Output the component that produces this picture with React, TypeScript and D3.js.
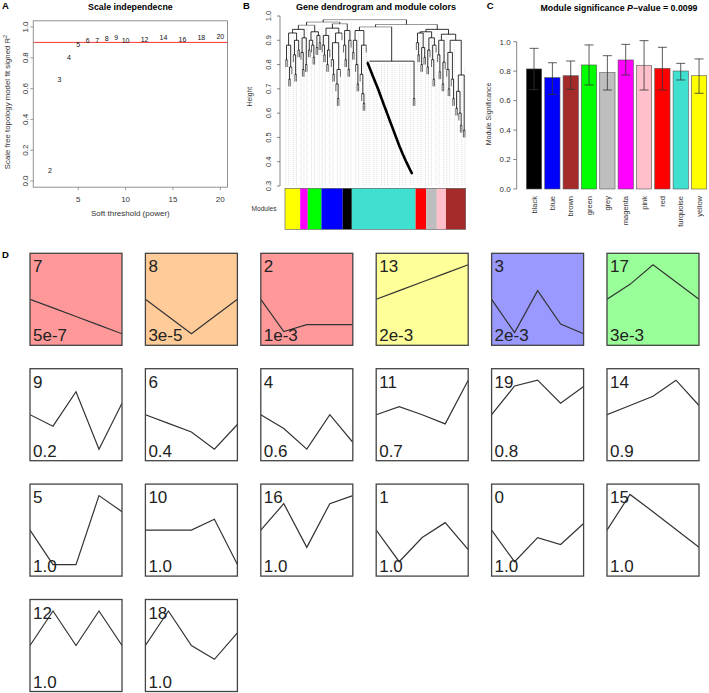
import React from 'react';
import * as d3 from 'd3';

// ---------- A: scale independence ----------
const powers = [2, 3, 4, 5, 6, 7, 8, 9, 10, 12, 14, 16, 18, 20];
const fitR2 = [0.071, 0.656, 0.8, 0.888, 0.913, 0.911, 0.922, 0.93, 0.913, 0.92, 0.93, 0.92, 0.93, 0.935];
const r2Cut = 0.9;
const aXTicks = [5, 10, 15, 20];
const aYTicks = [0, 0.2, 0.4, 0.6, 0.8, 1.0];

// ---------- B: dendrogram ----------
// module code -> colour
const moduleColors: Record<string, string> = {
  Y: '#FFFF00', M: '#FF00FF', G: '#00FF00', B: '#0000FF', K: '#000000',
  T: '#40E0D0', R: '#FF0000', E: '#BEBEBE', P: '#FFC0CB', N: '#A52A2A',
};
// (height child child ...) ; letters are leaves (module code); @ = turquoise chain
const yellowTree = '(0.93 (0.88 (0.82 Y Y) (0.79 (0.74 Y Y) Y)) (0.90 (0.84 Y (0.76 Y Y)) (0.86 Y Y)))';
const magentaTree = '(0.91 (0.85 M (0.78 M M)) (0.80 M M))';
const greenTree = '(0.935 (0.90 (0.86 G G) (0.88 G (0.83 G G))) (0.92 (0.87 G G) (0.89 G G)))';
const blueTree = '(0.95 (0.92 (0.88 B (0.84 B B)) (0.86 (0.80 B B) B)) (0.93 (0.89 (0.82 B (0.76 B B)) (0.78 (0.72 B (0.66 B B)) B)) B))';
const blackTree = '(0.94 (0.88 K (0.82 K K)) (0.90 (0.78 K K) K))';
const turqLeftTree = '(0.94 (0.90 (0.85 T T) (0.80 T (0.72 T T))) (0.88 (0.76 T (0.68 T (0.64 T T))) T))';
const redTree = '(0.93 (0.89 R (0.84 R R)) (0.87 (0.80 R R) (0.83 R R)))';
const greyTree = '(0.91 (0.86 (0.79 E E) E) (0.88 (0.82 E (0.74 E E)) E))';
const pinkTree = '(0.90 (0.84 P (0.77 P P)) (0.81 (0.72 P P) P))';
const brownTree = '(0.90 (0.85 (0.78 N (0.70 N N)) (0.74 N (0.66 N N))) (0.757 (0.69 (0.62 N N) (0.60 N (0.55 N N))) (0.53 N N)))';
const turqChainHeights = [
  0.805, 0.79, 0.774, 0.758, 0.743, 0.727, 0.712, 0.696, 0.679, 0.662,
  0.645, 0.628, 0.612, 0.595, 0.578, 0.561, 0.545, 0.528, 0.511, 0.495,
  0.478, 0.462, 0.447, 0.432, 0.418, 0.404, 0.391, 0.378, 0.365,
];
const dendroTree =
  `(0.985 (0.975 (0.962 (0.945 ${yellowTree} ${magentaTree}) ${greenTree}) (0.968 ${blueTree} ${blackTree}))` +
  ` (0.965 (0.955 ${turqLeftTree} (0.814 @ (0.66 T T))) (0.945 (0.935 ${redTree} ${greyTree}) (0.925 ${pinkTree} ${brownTree}))))`;
const bYTicks = [0.3, 0.4, 0.5, 0.6, 0.7, 0.8, 0.9, 1.0];

// ---------- C: module significance ----------
const msModules = ['black', 'blue', 'brown', 'green', 'grey', 'magenta', 'pink', 'red', 'turquoise', 'yellow'];
const msFill = ['#000000', '#0000FF', '#A52A2A', '#00FF00', '#BEBEBE', '#FF00FF', '#FFC0CB', '#FF0000', '#40E0D0', '#FFFF00'];
const msMean = [0.815, 0.756, 0.769, 0.842, 0.79, 0.876, 0.84, 0.819, 0.801, 0.769];
const msUpper = [0.955, 0.857, 0.869, 0.978, 0.905, 0.982, 1.007, 0.962, 0.853, 0.883];
const msLower = [0.675, 0.643, 0.677, 0.706, 0.672, 0.774, 0.672, 0.672, 0.74, 0.65];
const cYTicks = [0, 0.2, 0.4, 0.6, 0.8, 1.0];

// ---------- D: STEM profiles ----------
const profileIds = [7, 8, 2, 13, 3, 17, 9, 6, 4, 11, 19, 14, 5, 10, 16, 1, 0, 15, 12, 18];
const profilePs = ['5e-7', '3e-5', '1e-3', '2e-3', '2e-3', '3e-3', '0.2', '0.4', '0.6', '0.7', '0.8', '0.9',
  '1.0', '1.0', '1.0', '1.0', '1.0', '1.0', '1.0', '1.0'];
const profileFills = ['#FF9999', '#FFCC99', '#FF9999', '#FFFF99', '#9999FF', '#99FF99'];
const profileValues = [
  [0, -0.75, -1.5, -2.25, -3],
  [0, -1.5, -3, -1.5, 0],
  [0, -2.8, -2.2, -2.2, -2.2],
  [0, 0.75, 1.5, 2.25, 3],
  [0, -2.9, 0.75, -2.15, -3],
  [0, 1.3, 3, 1.5, 0],
  [0, -1, 2, -3, 1],
  [0, -0.75, -1.5, -3, -0.85],
  [0, -1.2, -3, 0, -2.4],
  [0, 0.7, 0, -0.8, 3],
  [0, 2.5, 3, 1, 2.45],
  [0, 0.8, 1.6, 3, 0.8],
  [0, -3, -3, 3, 1.6],
  [0, 0, 0, 0.95, -3],
  [0, 2.3, -1.5, 2.3, 3],
  [0, -2.75, -0.65, 0.65, -1.7],
  [0, -2.75, -0.65, -1.25, 0.57],
  [0, 3.1, 1.6, 0.05, -1.5],
  [0, 3, 0, 3, 0],
  [0, 3, 0, -1.2, 1.1],
];

type DNode = { h?: number; code?: string; children?: DNode[]; x?: number; chain?: boolean };

function buildChain(hs: number[], code: string): DNode {
  let node: DNode = { h: hs[hs.length - 1], chain: true, children: [{ code, chain: true }, { code, chain: true }] };
  for (let k = hs.length - 2; k >= 0; k--) node = { h: hs[k], chain: true, children: [{ code, chain: true }, node] };
  return node;
}

function parseTree(src: string, chain: DNode): DNode {
  const tokens = src.replace(/\(/g, ' ( ').replace(/\)/g, ' ) ').trim().split(/\s+/);
  let i = 0;
  const read = (): DNode => {
    const t = tokens[i++];
    if (t === '(') {
      const node: DNode = { h: +tokens[i++], children: [] };
      while (tokens[i] !== ')') node.children!.push(read());
      i++;
      return node;
    }
    if (t === '@') return chain;
    return { code: t };
  };
  return read();
}

const font = 'Liberation Sans, Arial, Helvetica, sans-serif';

function PanelA() {
  const ax = d3.scaleLinear().domain([1, 20]).range([40.43, 220.3]);
  const ay = d3.scaleLinear().domain([0, 1]).range([181, 27]);
  const x0 = ax(1 - 0.76), x1 = ax(20.76), y0 = ay(1.04), y1 = ay(-0.04);
  return (
    <g fontFamily={font}>
      <text x={2} y={8.5} fontSize={9.5} fontWeight="bold">A</text>
      <text x={(x0 + x1) / 2} y={9.5} fontSize={8.8} fontWeight="bold" textAnchor="middle">Scale independecne</text>
      <defs>
        <clipPath id="clipA"><rect x={x0} y={y0} width={x1 - x0} height={y1 - y0} /></clipPath>
      </defs>
      <line x1={x0} x2={x1} y1={ay(r2Cut)} y2={ay(r2Cut)} stroke="#FF0000" strokeWidth={0.8} />
      <g clipPath="url(#clipA)">
        {powers.map((p, i) => (
          <text key={p} x={ax(p)} y={ay(fitR2[i])} dy="0.35em" fontSize={7} textAnchor="middle" fill="#111">{p}</text>
        ))}
      </g>
      <rect x={x0} y={y0} width={x1 - x0} height={y1 - y0} fill="none" stroke="#777" strokeWidth={0.8} />
      {aXTicks.map(t => (
        <g key={t}>
          <line x1={ax(t)} x2={ax(t)} y1={y1} y2={y1 + 3} stroke="#777" strokeWidth={0.7} />
          <text x={ax(t)} y={y1 + 15} fontSize={8} textAnchor="middle" fill="#333">{t}</text>
        </g>
      ))}
      {aYTicks.map(t => (
        <g key={t}>
          <line x1={x0} x2={x0 - 3} y1={ay(t)} y2={ay(t)} stroke="#777" strokeWidth={0.7} />
          <text transform={`translate(${x0 - 5},${ay(t)}) rotate(-90)`} fontSize={8} textAnchor="middle" fill="#333">{d3.format('.1f')(t)}</text>
        </g>
      ))}
      <text x={(x0 + x1) / 2} y={216} fontSize={8} textAnchor="middle" fill="#333">Soft threshold (power)</text>
      <text transform={`translate(9.5,${(y0 + y1) / 2 - 2}) rotate(-90)`} fontSize={7.8} textAnchor="middle" fill="#333">
        Scale free topology model fit signed R<tspan dy={-3} fontSize={5.5}>2</tspan>
      </text>
    </g>
  );
}

function PanelB() {
  const by = d3.scaleLinear().domain([0.3, 1]).range([186, 16]);
  const root = parseTree(dendroTree, buildChain(turqChainHeights, 'T'));
  const leaves: DNode[] = [];
  const collect = (n: DNode) => { if (n.children) n.children.forEach(collect); else leaves.push(n); };
  collect(root);
  const bx = d3.scaleBand<number>().domain(d3.range(leaves.length)).range([285, 465.7]);
  leaves.forEach((l, i) => { l.x = bx(i)! + bx.bandwidth() / 2; });
  const place = (n: DNode): number => {
    if (!n.children) return n.x!;
    const xs = n.children.map(place);
    n.x = (xs[0] + xs[xs.length - 1]) / 2;
    return n.x;
  };
  place(root);
  const hang = 0.03;
  const hSegs: { x1: number; x2: number; h: number }[] = [];
  const vSegs: { x: number; h1: number; h2: number; leaf: boolean }[] = [];
  const chainPts: [number, number][] = [];
  const walk = (n: DNode) => {
    if (!n.children) return;
    const c = n.children;
    if (n.chain) {
      // the long chain of single genes is drawn as one thick stroke through its merges
      chainPts.push([c[0].x!, n.h!]);
      if (c[1].children) walk(c[1]);
      else chainPts.push([c[1].x!, n.h! - 0.012]);
      return;
    }
    hSegs.push({ x1: c[0].x!, x2: c[c.length - 1].x!, h: n.h! });
    c.forEach(k => {
      const top = k.chain && k.children ? k.children[0].x! : k.x!;
      vSegs.push({ x: top, h1: n.h!, h2: k.children ? k.h! : n.h! - hang, leaf: !k.children });
      walk(k);
    });
  };
  walk(root);
  const chainLine = d3.line<[number, number]>().x(d => d[0]).y(d => by(d[1]));

  // guide lines
  const guideIdx = d3.range(50).map(k => Math.round(k * (leaves.length - 1) / 49));
  const guides = guideIdx.map(i => {
    const x = leaves[i].x!;
    const covering = hSegs.filter(s => s.x1 <= x && s.x2 >= x && s.x2 - s.x1 > 2.5);
    const top = d3.min(covering, s => s.h) ?? 0.8;
    return { x, top: top - 0.012 };
  });

  // colour strip runs
  const runs: { code: string; a: number; b: number }[] = [];
  leaves.forEach((l, i) => {
    const last = runs[runs.length - 1];
    if (last && last.code === l.code) last.b = i;
    else runs.push({ code: l.code!, a: i, b: i });
  });
  const stripTop = 188.3, stripBot = 229.3;

  return (
    <g fontFamily={font}>
      <text x={243} y={8.5} fontSize={9.5} fontWeight="bold">B</text>
      <text x={376} y={9.5} fontSize={9} fontWeight="bold" textAnchor="middle">Gene dendrogram and module colors</text>
      {guides.map((g, i) => (
        <line key={i} x1={g.x} x2={g.x} y1={by(g.top)} y2={by(0.3)} stroke="#B8B8B8" strokeWidth={0.5} strokeDasharray="1,1" />
      ))}
      <g stroke="#000" strokeLinecap="butt">
        {hSegs.map((s, i) => (
          <line key={'h' + i} x1={s.x1} x2={s.x2} y1={by(s.h)} y2={by(s.h)}
            strokeWidth={s.h > 0.95 ? 0.6 : 0.8} stroke={s.h > 0.95 ? '#555' : '#000'} />
        ))}
        {vSegs.map((s, i) => (
          <line key={'v' + i} x1={s.x} x2={s.x} y1={by(s.h1)} y2={by(s.h2)} strokeWidth={s.leaf ? 0.6 : 0.8} />
        ))}
      </g>
      <path d={chainLine(chainPts)!} fill="none" stroke="#000" strokeWidth={2.6} strokeLinejoin="round" strokeLinecap="round" />
      <line x1={280} x2={280} y1={by(0.3)} y2={by(1)} stroke="#555" strokeWidth={0.7} />
      {bYTicks.map(t => (
        <g key={t}>
          <line x1={280} x2={277} y1={by(t)} y2={by(t)} stroke="#555" strokeWidth={0.7} />
          <text transform={`translate(${268},${by(t)}) rotate(-90)`} dy="0.35em" fontSize={7.5} textAnchor="middle" fill="#333">{d3.format('.1f')(t)}</text>
        </g>
      ))}
      <text transform={`translate(249.5,96.7) rotate(-90)`} dy="0.35em" fontSize={6.8} textAnchor="middle" fill="#333">Height</text>
      {runs.map((r, i) => (
        <rect key={i} x={bx(r.a)!} y={stripTop} width={bx(r.b)! + bx.bandwidth() - bx(r.a)!} height={stripBot - stripTop} fill={moduleColors[r.code]} />
      ))}
      <rect x={285} y={stripTop} width={465.7 - 285} height={stripBot - stripTop} fill="none" stroke="#555" strokeWidth={0.6} />
      <text x={264} y={208.5} dy="0.35em" fontSize={6.6} textAnchor="middle" fill="#333">Modules</text>
    </g>
  );
}

function PanelC() {
  const cy = d3.scaleLinear().domain([0, 1]).range([189, 41.7]);
  const cx = d3.scaleBand<string>().domain(msModules).range([526.4, 706.7]).paddingInner(0.1667);
  const axisX = 516.7;
  return (
    <g fontFamily={font}>
      <text x={486.7} y={9} fontSize={9.5} fontWeight="bold">C</text>
      <text x={619} y={10.5} fontSize={8.8} fontWeight="bold" textAnchor="middle">
        Module significance <tspan fontStyle="italic">P</tspan>−value = 0.0099
      </text>
      {msModules.map((m, i) => {
        const x = cx(m)!, w = cx.bandwidth(), mid = x + w / 2;
        return (
          <g key={m}>
            <rect x={x} y={cy(msMean[i])} width={w} height={cy(0) - cy(msMean[i])} fill={msFill[i]} stroke="#555" strokeWidth={0.6} />
            <g stroke="#333" strokeWidth={0.8}>
              <line x1={mid} x2={mid} y1={cy(msLower[i])} y2={cy(msUpper[i])} />
              <line x1={mid - 4.5} x2={mid + 4.5} y1={cy(msLower[i])} y2={cy(msLower[i])} />
              <line x1={mid - 4.5} x2={mid + 4.5} y1={cy(msUpper[i])} y2={cy(msUpper[i])} />
            </g>
            <text transform={`translate(${mid},196) rotate(-90)`} dy="0.35em" fontSize={7.5} textAnchor="end" fill="#333">{m}</text>
          </g>
        );
      })}
      <line x1={axisX} x2={axisX} y1={cy(0)} y2={cy(1)} stroke="#555" strokeWidth={0.7} />
      {cYTicks.map(t => (
        <g key={t}>
          <line x1={axisX} x2={axisX - 3.5} y1={cy(t)} y2={cy(t)} stroke="#555" strokeWidth={0.7} />
          <text x={axisX - 6} y={cy(t)} dy="0.35em" fontSize={8} textAnchor="end" fill="#333">{d3.format('.1f')(t)}</text>
        </g>
      ))}
      <text transform={`translate(488.3,114) rotate(-90)`} dy="0.35em" fontSize={7} textAnchor="middle" fill="#333">Module Significance</text>
    </g>
  );
}

function PanelD() {
  const left0 = 30, top0 = 253.3, pitch = 115.4, bw = 92, bh = 92;
  return (
    <g fontFamily={font}>
      <text x={2} y={258} fontSize={9.5} fontWeight="bold">D</text>
      {profileIds.map((id, i) => {
        const col = i % 6, row = Math.floor(i / 6);
        const x0 = left0 + col * pitch, y0 = top0 + row * pitch;
        const px = d3.scaleLinear().domain([0, 4]).range([x0, x0 + bw]);
        const py = d3.scaleLinear().domain([-4, 4]).range([y0 + bh, y0]);
        const line = d3.line<number>().x((_, k) => px(k)).y(v => py(v));
        return (
          <g key={id}>
            <defs>
              <clipPath id={`clipD${i}`}><rect x={x0} y={y0} width={bw} height={bh} /></clipPath>
            </defs>
            <rect x={x0} y={y0} width={bw} height={bh} fill={profileFills[i] ?? '#FFFFFF'} />
            <path d={line(profileValues[i])!} fill="none" stroke="#333" strokeWidth={1.2} clipPath={`url(#clipD${i})`} />
            <text x={x0 + 3} y={y0 + 19} fontSize={17} fill="#222">{id}</text>
            <text x={x0 + 3} y={y0 + bh - 4} fontSize={17} fill="#222">{profilePs[i]}</text>
            <rect x={x0} y={y0} width={bw} height={bh} fill="none" stroke="#444" strokeWidth={1.3} />
          </g>
        );
      })}
    </g>
  );
}

export default function App() {
  return (
    <svg width={709} height={693} viewBox="0 0 709 693"
      style={{ position: 'absolute', left: 0, top: 0, background: '#fff' }}>
      <rect width={709} height={693} fill="#fff" />
      <PanelA />
      <PanelB />
      <PanelC />
      <PanelD />
    </svg>
  );
}
